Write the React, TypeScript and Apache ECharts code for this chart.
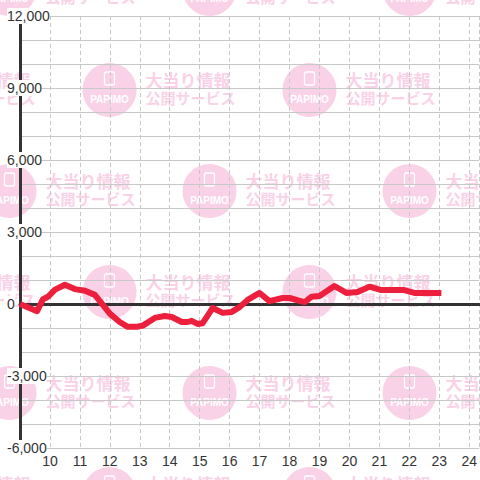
import React, { useEffect, useRef } from "react";
import * as echarts from "echarts";

// time of day (hours) and balance values
const times = [
  9.0, 9.57, 9.77, 9.93, 10.17, 10.5, 10.83, 11.17, 11.5, 12.0, 12.33, 12.6, 12.9, 13.1,
  13.5, 13.83, 14.07, 14.4, 14.6, 14.73, 14.93, 15.1, 15.43, 15.77, 16.07, 16.33, 16.6,
  17.0, 17.33, 17.77, 18.0, 18.5, 18.73, 19.0, 19.5, 19.9, 20.27, 20.67, 21.07, 21.83,
  22.17, 23.07,
];
const values = [
  0, -300, 200, 300, 600, 800, 620, 550, 380, -400, -750, -950, -950, -900,
  -580, -500, -540, -750, -750, -700, -830, -800, -170, -370, -330, -130, 170,
  460, 120, 250, 250, 80, 300, 330, 750, 460, 500, 720, 580, 580,
  460, 460,
];
const xTicks = [10, 11, 12, 13, 14, 15, 16, 17, 18, 19, 20, 21, 22, 23, 24];
const yTicks = [-6000, -3000, 0, 3000, 6000, 9000, 12000];

const WM_CENTERS: [number, number][] = [];
const rowsY = [-11, 90, 191, 292, 393, 494];
rowsY.forEach((cy, i) => {
  const xs = i % 2 === 0 ? [9.5, 209.5, 409.5] : [-90.5, 109.5, 309.5];
  xs.forEach((cx) => WM_CENTERS.push([cx, cy]));
});

const PINK = "#fad2e8";

function buildWatermark() {
  const els: any[] = [];
  WM_CENTERS.forEach(([cx, cy]) => {
    els.push({
      type: "circle",
      z: -10,
      shape: { cx, cy, r: 27 },
      style: { fill: PINK },
      silent: true,
    });
    els.push({
      type: "rect",
      z: -9,
      shape: { x: cx - 5, y: cy - 18, width: 10, height: 13, r: 2 },
      style: { fill: "none", stroke: "#ffffff", lineWidth: 1.3 },
      silent: true,
    });
    els.push({
      type: "text",
      z: -9,
      x: cx,
      y: cy + 9,
      style: {
        text: "PAPIMO",
        fill: "#ffffff",
        font: "bold 10px 'Liberation Sans', Arial, sans-serif",
        textAlign: "center",
        textVerticalAlign: "middle",
      },
      silent: true,
    });
    els.push({
      type: "text",
      z: -10,
      x: cx + 36,
      y: cy - 11,
      style: {
        text: "大当り情報",
        fill: PINK,
        font: "bold 17px 'Noto Sans CJK JP', sans-serif",
        textAlign: "left",
        textVerticalAlign: "middle",
      },
      silent: true,
    });
    els.push({
      type: "text",
      z: -10,
      x: cx + 36,
      y: cy + 7.5,
      style: {
        text: "公開サービス",
        fill: PINK,
        font: "bold 15px 'Noto Sans CJK JP', sans-serif",
        textAlign: "left",
        textVerticalAlign: "middle",
      },
      silent: true,
    });
  });
  return els;
}

export default function App() {
  const ref = useRef<HTMLDivElement>(null);
  useEffect(() => {
    if (!ref.current) return;
    const chart = echarts.init(ref.current, undefined, { renderer: "svg" });
    const xMin = 9;
    const xMax = 9 + 460 / 30;
    chart.setOption({
      animation: false,
      backgroundColor: "#ffffff",
      textStyle: { fontFamily: "'Liberation Sans', Arial, sans-serif" },
      graphic: buildWatermark(),
      grid: { left: 20, right: 0, top: 16, bottom: 32, containLabel: false },
      xAxis: [
        {
          type: "value",
          min: xMin,
          max: xMax,
          interval: 1,
          position: "bottom",
          axisLine: { show: false, onZero: false },
          axisTick: { show: false },
          axisLabel: {
            color: "#333",
            fontSize: 14,
            margin: 6,
            showMinLabel: false,
            showMaxLabel: false,
            formatter: (v: number) => (xTicks.includes(v) ? String(v) : ""),
          },
          splitLine: {
            show: true,
            lineStyle: { color: "#c8c8c8", width: 1, type: [4, 3] },
          },
        },
        {
          type: "value",
          min: xMin,
          max: xMax,
          position: "top",
          axisLine: { show: true, onZero: true, lineStyle: { color: "#333", width: 3 } },
          axisTick: { show: false },
          axisLabel: { show: false },
          splitLine: { show: false },
        },
      ],
      yAxis: {
        type: "value",
        min: yTicks[0],
        max: yTicks[yTicks.length - 1],
        interval: 3000,
        axisLine: { show: true, onZero: false, lineStyle: { color: "#333", width: 3 } },
        axisTick: { show: false },
        axisLabel: {
          color: "#333",
          fontSize: 14,
          align: "left",
          margin: 13,
          backgroundColor: "#ffffff",
          padding: [1, 0, 1, 0],
          formatter: (v: number) => v.toLocaleString("en-US"),
        },
        splitLine: { show: true, lineStyle: { color: "#c8c8c8", width: 1 } },
        minorTick: { show: false, splitNumber: 3 },
        minorSplitLine: { show: true, lineStyle: { color: "#c8c8c8", width: 1 } },
      },
      series: [
        {
          type: "line",
          xAxisIndex: 0,
          data: times.map((t, i) => [t, values[i]]),
          showSymbol: false,
          symbol: "none",
          lineStyle: { color: "#ec1f3c", width: 6, join: "round" },
          z: 5,
        },
      ],
    });
    return () => chart.dispose();
  }, []);
  return <div ref={ref} style={{ width: 480, height: 480, position: "absolute", left: 0, top: 0 }} />;
}
